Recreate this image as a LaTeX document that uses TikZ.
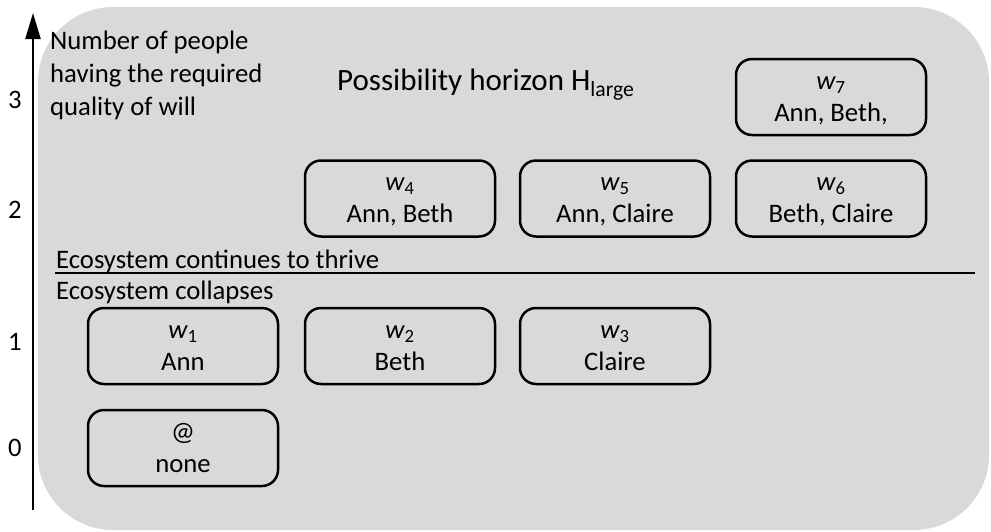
\documentclass[tikz,border=0pt]{standalone}
\usepackage{fontspec}
\setmainfont{Carlito}
\usetikzlibrary{arrows.meta}
\definecolor{horizon}{HTML}{D9D9D9}
\tikzset{
  world/.style={draw=black, line width=2.5pt, rounded corners=16pt,
    minimum width=190pt, minimum height=76pt, inner sep=0pt,
    align=center, font=\fontsize{26.7}{32}\selectfont},
  plain/.style={inner sep=0pt, font=\fontsize{26.7}{33}\selectfont},
  ticklabel/.style={inner sep=0pt, font=\fontsize{26.7}{30}\selectfont},
  axisline/.style={line width=2.2pt, -{Triangle[length=26pt,width=15pt]}}
}
% two-line world label with fixed outer height and depth
\newcommand{\worldtext}[2]{\rule{0pt}{20pt}#1\\#2\rule[-3pt]{0pt}{3pt}}
\newcommand{\wsub}[1]{{\itshape w}\textsubscript{#1}}
\begin{document}
\begin{tikzpicture}[x=1pt,y=-1pt]
  \useasboundingbox (0,0) rectangle (991,531);
  % possibility horizon
  \fill[horizon, rounded corners=75pt] (38,7) rectangle (989,530);
  \node[inner sep=0pt, anchor=base west, font=\fontsize{31}{36}\selectfont]
    (title) at (337,90) {Possibility horizon H\textsubscript{large}};

  % vertical axis
  \coordinate (axbot) at (33,510);
  \coordinate (axtop) at (33,13);
  \draw[axisline] (axbot) -- (axtop);
  \node[plain, anchor=base west, align=left] (axlabel) at (50,115)
    {Number of people\\having the required\\quality of will};
  \node[ticklabel] (t3) at (15,100) {3};
  \node[ticklabel] (t2) at (15,210) {2};
  \node[ticklabel] (t1) at (15,342) {1};
  \node[ticklabel] (t0) at (15,448) {0};

  % threshold between thriving and collapse
  \coordinate (thrL) at (55,273);
  \coordinate (thrR) at (975,273);
  \draw[line width=1.5pt] (thrL) -- (thrR);
  \node[plain, anchor=base west] (thrive) at (56,268) {Ecosystem continues to thrive};
  \node[plain, anchor=base west] (collapse) at (56,299) {Ecosystem collapses};

  % worlds
  \node[world] (w7) at (831,97)    {\worldtext{\wsub{7}}{Ann, Beth,}};
  \node[world] (w4) at (400,198.5) {\worldtext{\wsub{4}}{Ann, Beth}};
  \node[world] (w5) at (615,198.5) {\worldtext{\wsub{5}}{Ann, Claire}};
  \node[world] (w6) at (831,198.5) {\worldtext{\wsub{6}}{Beth, Claire}};
  \node[world] (w1) at (183,346)   {\worldtext{\wsub{1}}{Ann}};
  \node[world] (w2) at (400,346)   {\worldtext{\wsub{2}}{Beth}};
  \node[world] (w3) at (615,346)   {\worldtext{\wsub{3}}{Claire}};
  \node[world] (w0) at (183,448)   {\worldtext{@}{none}};
\end{tikzpicture}
\end{document}
